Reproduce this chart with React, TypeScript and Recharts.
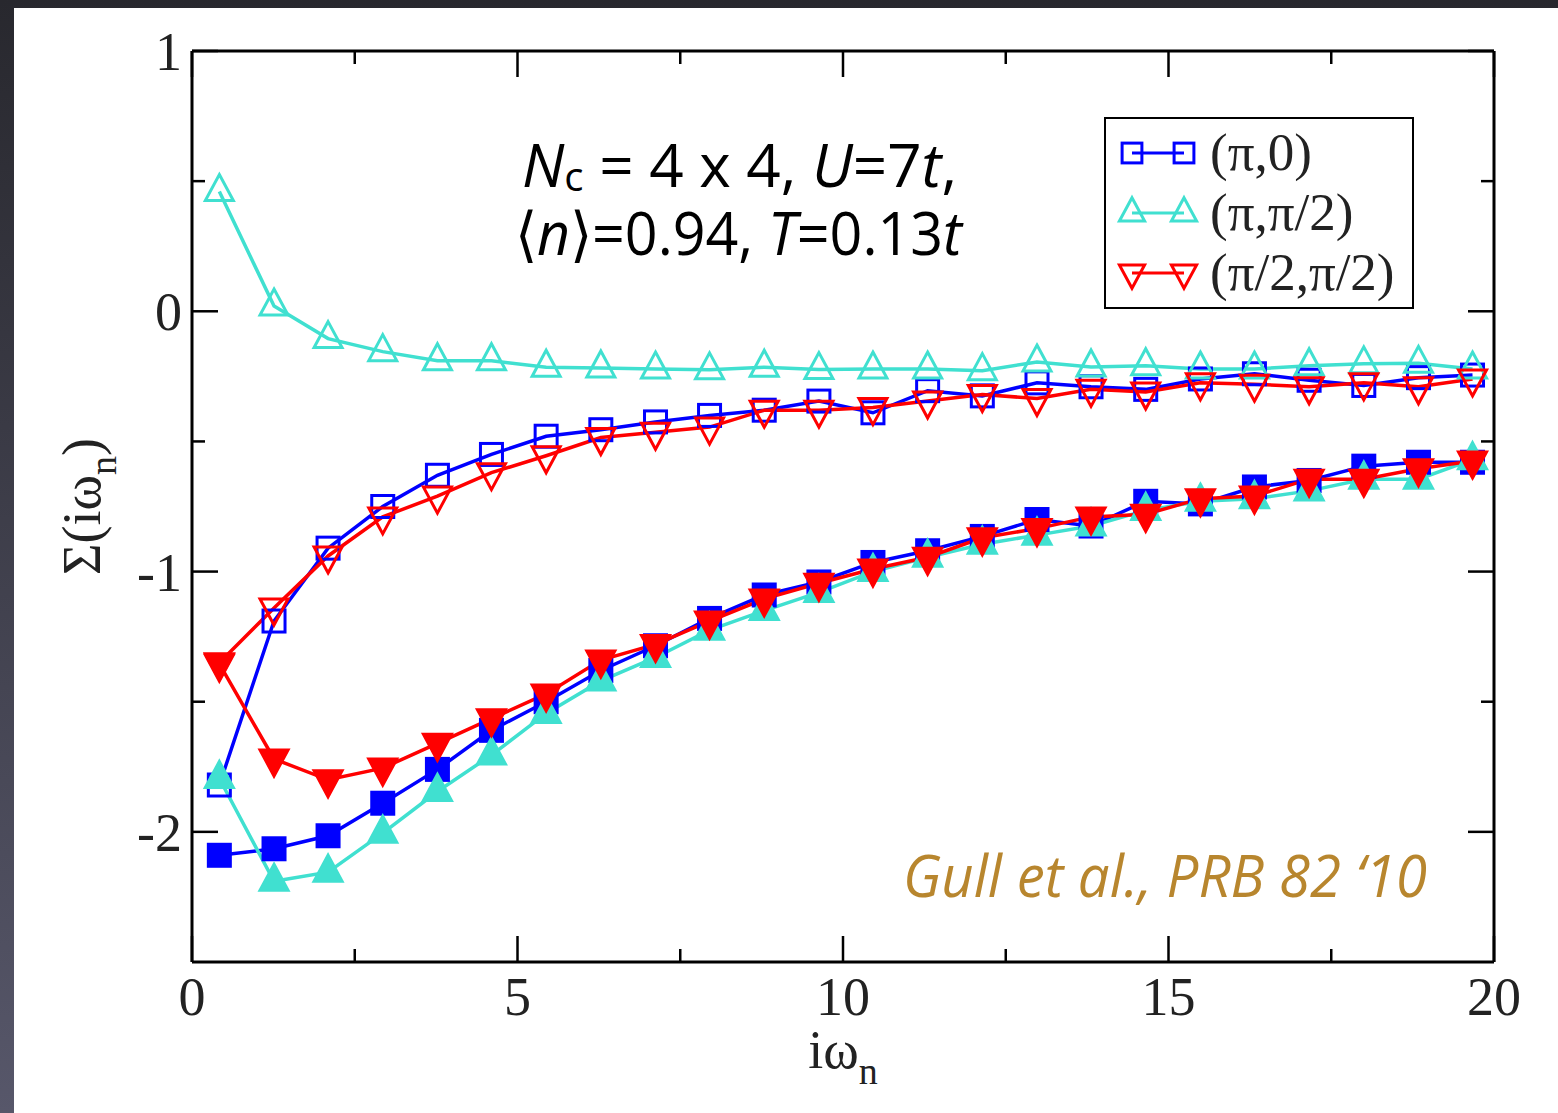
import React from 'react';
import { LineChart, Line, XAxis, YAxis, Legend } from 'recharts';

// Matsubara frequencies iω_n
const OMEGA = [
  0.42, 1.26, 2.09, 2.93, 3.77, 4.6, 5.44, 6.28, 7.12, 7.95, 8.79, 9.63,
  10.46, 11.3, 12.14, 12.98, 13.81, 14.65, 15.49, 16.32, 17.16, 18.0, 18.84, 19.67,
];

// open symbols
const PI0_OPEN = [
  -1.82, -1.19, -0.91, -0.75, -0.63, -0.55, -0.48, -0.455, -0.425, -0.4, -0.38, -0.345,
  -0.39, -0.305, -0.325, -0.275, -0.29, -0.3, -0.26, -0.24, -0.265, -0.285, -0.255, -0.245,
];
const PIPI2_OPEN = [
  0.46, 0.02, -0.105, -0.155, -0.19, -0.19, -0.215, -0.218, -0.222, -0.225, -0.215, -0.224,
  -0.222, -0.222, -0.228, -0.195, -0.214, -0.209, -0.222, -0.222, -0.209, -0.202, -0.2, -0.222,
];
const PI2PI2_OPEN = [
  -1.35, -1.14, -0.94, -0.79, -0.71, -0.62, -0.555, -0.485, -0.465, -0.445, -0.38, -0.38,
  -0.37, -0.345, -0.32, -0.335, -0.3, -0.31, -0.275, -0.28, -0.29, -0.275, -0.29, -0.26,
];

// filled symbols
const PI0_FILLED = [
  -2.09, -2.065, -2.015, -1.89, -1.76, -1.61, -1.5, -1.38, -1.285, -1.18, -1.09, -1.04,
  -0.965, -0.92, -0.865, -0.8, -0.825, -0.73, -0.74, -0.675, -0.65, -0.595, -0.58, -0.58,
];
const PIPI2_FILLED = [
  -1.795, -2.19, -2.155, -2.005, -1.845, -1.705, -1.545, -1.42, -1.33, -1.225, -1.15, -1.08,
  -1.0, -0.945, -0.895, -0.86, -0.825, -0.765, -0.73, -0.72, -0.69, -0.645, -0.645, -0.57,
];
const PI2PI2_FILLED = [
  -1.355, -1.72, -1.8, -1.755, -1.66, -1.565, -1.47, -1.34, -1.28, -1.19, -1.105, -1.045,
  -0.99, -0.945, -0.87, -0.835, -0.79, -0.78, -0.72, -0.71, -0.645, -0.645, -0.605, -0.575,
];

const X_MAJOR = [0, 5, 10, 15, 20];
const X_MINOR = [2.5, 7.5, 12.5, 17.5];
const Y_MAJOR = [-2, -1, 0, 1];
const Y_MINOR = [-1.5, -0.5, 0.5];

const LEGEND_LABELS = ['(π,0)', '(π,π/2)', '(π/2,π/2)'];

const BLUE = '#0000ff';
const CYAN = '#40e0d0';
const RED = '#ff0000';
const SERIF = '"Liberation Serif", "Times New Roman", serif';
const SANS = '"Open Sans", "Noto Sans", sans-serif';

// frame layout
const LEFT = 192;
const TOP = 51;
const RIGHT = 64;
const BOTTOM = 151;
const W = 1558;
const H = 1113;
const PLOT_W = W - LEFT - RIGHT;
const PLOT_H = H - TOP - BOTTOM;

const data = OMEGA.map((w, i) => ({
  w,
  pi0Open: PI0_OPEN[i],
  pipi2Open: PIPI2_OPEN[i],
  pi2pi2Open: PI2PI2_OPEN[i],
  pi0Filled: PI0_FILLED[i],
  pipi2Filled: PIPI2_FILLED[i],
  pi2pi2Filled: PI2PI2_FILLED[i],
}));

type Shape = 'square' | 'up' | 'down';

function marker(shape: Shape, cx: number, cy: number, color: string, filled: boolean, s = 1, key?: string) {
  const common = {
    fill: filled ? color : 'none',
    stroke: color,
    strokeWidth: 3,
    strokeLinejoin: 'miter' as const,
  };
  if (shape === 'square') {
    const h = 11 * s;
    return <rect key={key} x={cx - h} y={cy - h} width={2 * h} height={2 * h} {...common} />;
  }
  const hw = 14 * s;
  const top = 17 * s;
  const bot = 9 * s;
  const d =
    shape === 'up'
      ? `M${cx},${cy - top} L${cx + hw},${cy + bot} L${cx - hw},${cy + bot} Z`
      : `M${cx},${cy + top} L${cx + hw},${cy - bot} L${cx - hw},${cy - bot} Z`;
  return <path key={key} d={d} {...common} />;
}

const dotFor = (name: string, shape: Shape, color: string, filled: boolean) => (p: any) => {
  if (p.cx == null || p.cy == null) return <g key={`${name}-${p.index}`} />;
  return marker(shape, p.cx, p.cy, color, filled, 1, `${name}-${p.index}`);
};

const tickText = { fontFamily: SERIF, fontSize: 54, fill: '#222' };

// bottom axis tick, mirrored onto the top edge of the frame
const BottomTick = (p: any) => {
  const v = p.payload.value;
  const major = X_MAJOR.includes(v);
  const len = major ? 26 : 13;
  const yTop = p.y - PLOT_H;
  return (
    <g>
      <line x1={p.x} y1={p.y} x2={p.x} y2={p.y - len} stroke="#000" strokeWidth={2.5} />
      <line x1={p.x} y1={yTop} x2={p.x} y2={yTop + len} stroke="#000" strokeWidth={2.5} />
      {major && (
        <text x={p.x} y={p.y + 53} textAnchor="middle" {...tickText}>
          {v}
        </text>
      )}
    </g>
  );
};

// left axis tick, mirrored onto the right edge of the frame
const LeftTick = (p: any) => {
  const v = p.payload.value;
  const major = Y_MAJOR.includes(v);
  const len = major ? 26 : 13;
  const xRight = p.x + PLOT_W;
  return (
    <g>
      <line x1={p.x} y1={p.y} x2={p.x + len} y2={p.y} stroke="#000" strokeWidth={2.5} />
      <line x1={xRight} y1={p.y} x2={xRight - len} y2={p.y} stroke="#000" strokeWidth={2.5} />
      {major && (
        <text x={p.x - 10} y={p.y + 19} textAnchor="end" {...tickText}>
          {v}
        </text>
      )}
    </g>
  );
};

const XTitle = (p: any) => {
  const vb = p.viewBox || { x: LEFT, y: TOP + PLOT_H, width: PLOT_W, height: BOTTOM };
  const cx = vb.x + vb.width / 2;
  return (
    <text x={cx} y={vb.y + 106} textAnchor="middle" {...tickText}>
      iω<tspan dy={16} fontSize={38}>n</tspan>
    </text>
  );
};

const YTitle = (p: any) => {
  const vb = p.viewBox || { x: 0, y: TOP, width: LEFT, height: PLOT_H };
  const cy = vb.y + vb.height / 2;
  const x = 100;
  return (
    <text x={x} y={cy} transform={`rotate(-90 ${x} ${cy})`} textAnchor="middle" {...tickText}>
      Σ(iω<tspan dy={16} fontSize={38}>n</tspan>
      <tspan dy={-16}>)</tspan>
    </text>
  );
};

const LegendBox = () => {
  const rows: { shape: Shape; color: string }[] = [
    { shape: 'square', color: BLUE },
    { shape: 'up', color: CYAN },
    { shape: 'down', color: RED },
  ];
  return (
    <svg width={310} height={192} style={{ display: 'block' }}>
      <rect x={1} y={1} width={308} height={190} fill="#fff" stroke="#000" strokeWidth={2} />
      {rows.map((r, i) => {
        const y = 36 + i * 60;
        return (
          <g key={i}>
            <line x1={28} y1={y} x2={80} y2={y} stroke={r.color} strokeWidth={3} />
            {marker(r.shape, 28, y, r.color, false, 0.9)}
            {marker(r.shape, 80, y, r.color, false, 0.9)}
            <text x={106} y={y + 17} fontFamily={SERIF} fontSize={53} fill="#222">
              {LEGEND_LABELS[i]}
            </text>
          </g>
        );
      })}
    </svg>
  );
};

export default function App() {
  const axisLine = { stroke: '#000', strokeWidth: 3 };
  return (
    <div
      style={{
        position: 'fixed',
        left: 0,
        top: 0,
        width: W,
        height: H,
        background: 'linear-gradient(#28282e, #57576a)',
      }}
    >
      <div style={{ position: 'absolute', left: 14, top: 8, right: 0, bottom: 0, background: '#fff' }} />
      <div style={{ position: 'absolute', left: 0, top: 0 }}>
        <LineChart width={W} height={H} data={data} margin={{ top: 0, right: 0, bottom: 0, left: 0 }}>
          <XAxis
            xAxisId="b"
            dataKey="w"
            type="number"
            domain={[0, 20]}
            allowDataOverflow
            ticks={[...X_MAJOR, ...X_MINOR]}
            interval={0}
            tickSize={0}
            tickMargin={0}
            tickLine={false}
            axisLine={axisLine}
            tick={(p: any) => <BottomTick {...p} />}
            height={BOTTOM}
            label={{ content: (p: any) => <XTitle {...p} /> }}
          />
          <XAxis
            xAxisId="t"
            orientation="top"
            type="number"
            domain={[0, 20]}
            tick={false}
            tickLine={false}
            axisLine={axisLine}
            height={TOP}
          />
          <YAxis
            yAxisId="l"
            type="number"
            domain={[-2.5, 1]}
            allowDataOverflow
            ticks={[...Y_MAJOR, ...Y_MINOR]}
            interval={0}
            tickSize={0}
            tickMargin={0}
            tickLine={false}
            axisLine={axisLine}
            tick={(p: any) => <LeftTick {...p} />}
            width={LEFT}
            label={{ content: (p: any) => <YTitle {...p} /> }}
          />
          <YAxis
            yAxisId="r"
            orientation="right"
            type="number"
            domain={[-2.5, 1]}
            tick={false}
            tickLine={false}
            axisLine={axisLine}
            width={RIGHT}
          />
          <Legend
            layout="horizontal"
            verticalAlign="middle"
            align="center"
            content={() => <LegendBox />}
            wrapperStyle={{ left: 1104, top: 117, width: 310, height: 192 }}
          />
          <Line xAxisId="b" yAxisId="l" dataKey="pi0Open" stroke={BLUE} strokeWidth={3.5} dot={dotFor('a', 'square', BLUE, false)} activeDot={false} isAnimationActive={false} />
          <Line xAxisId="b" yAxisId="l" dataKey="pipi2Open" stroke={CYAN} strokeWidth={3.5} dot={dotFor('b', 'up', CYAN, false)} activeDot={false} isAnimationActive={false} />
          <Line xAxisId="b" yAxisId="l" dataKey="pi2pi2Open" stroke={RED} strokeWidth={3.5} dot={dotFor('c', 'down', RED, false)} activeDot={false} isAnimationActive={false} />
          <Line xAxisId="b" yAxisId="l" dataKey="pi0Filled" stroke={BLUE} strokeWidth={3.5} dot={dotFor('d', 'square', BLUE, true)} activeDot={false} isAnimationActive={false} />
          <Line xAxisId="b" yAxisId="l" dataKey="pipi2Filled" stroke={CYAN} strokeWidth={3.5} dot={dotFor('e', 'up', CYAN, true)} activeDot={false} isAnimationActive={false} />
          <Line xAxisId="b" yAxisId="l" dataKey="pi2pi2Filled" stroke={RED} strokeWidth={3.5} dot={dotFor('f', 'down', RED, true)} activeDot={false} isAnimationActive={false} />
        </LineChart>
      </div>
      <svg width={W} height={H} style={{ position: 'absolute', left: 0, top: 0, pointerEvents: 'none' }}>
        <text x={522} y={187} fontFamily={SANS} fontSize={60} fill="#000" textLength={435} lengthAdjust="spacingAndGlyphs">
          <tspan fontStyle="italic">N</tspan>
          <tspan fontSize={40} dy={4}>c</tspan>
          <tspan dy={-4}> = 4 x 4, </tspan>
          <tspan fontStyle="italic">U</tspan>=7<tspan fontStyle="italic">t</tspan>,
        </text>
        <text x={515} y={255} fontFamily={SANS} fontSize={60} fill="#000" textLength={447} lengthAdjust="spacingAndGlyphs">
          ⟨<tspan fontStyle="italic">n</tspan>⟩=0.94, <tspan fontStyle="italic">T</tspan>=0.13<tspan fontStyle="italic">t</tspan>
        </text>
        <text x={903} y={897} fontFamily={SANS} fontStyle="italic" fontSize={58} fill="#b8862e" textLength={524} lengthAdjust="spacingAndGlyphs">
          Gull et al., PRB 82 ‘10
        </text>
      </svg>
    </div>
  );
}
